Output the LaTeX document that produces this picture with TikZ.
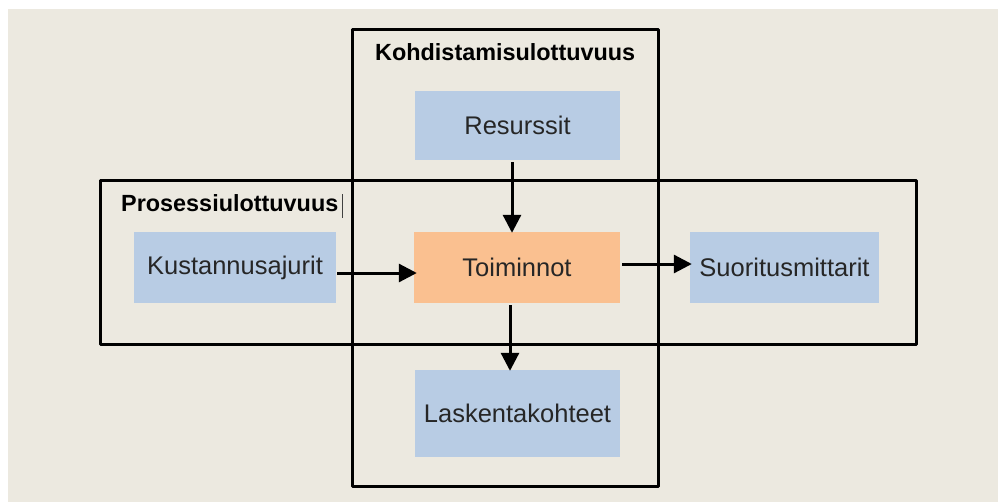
\documentclass[tikz,border=0pt]{standalone}
\usepackage{fontspec}
\setmainfont{Liberation Sans}
\usetikzlibrary{arrows.meta}
\definecolor{canvas}{RGB}{236,233,224}
\definecolor{boxblue}{RGB}{184,204,228}
\definecolor{boxorange}{RGB}{250,192,144}
\tikzset{
  frame/.style={draw=black, line width=3pt, line join=round},
  cell/.style={rectangle, inner sep=0pt, font=\fontsize{25.5}{28}\selectfont, text=black!85},
  bluecell/.style={cell, fill=boxblue},
  orangecell/.style={cell, fill=boxorange},
  title/.style={inner sep=0pt, anchor=base west, font=\fontsize{23.4}{26}\selectfont\bfseries},
  arr/.style={line width=3pt, -{Triangle[length=18pt,width=18pt]}}
}
\begin{document}
\begin{tikzpicture}[x=1pt,y=-1pt]
  \useasboundingbox (0,0) rectangle (998,503);
  \fill[white] (0,0) rectangle (998,503);
  \fill[canvas] (8,9) rectangle (998,502);

  % the two dimension frames
  \draw[frame] (352,30) rectangle (658,486);
  \draw[frame] (100,180) rectangle (916,344);
  \node[title] (ktitle) at (375,61) {Kohdistamisulottuvuus};
  \node[title] (ptitle) at (121,211) {Prosessiulottuvuus};
  \draw[line width=1pt, black!75] (342,194) -- (342,218);

  % cells
  \node[bluecell, minimum width=205pt, minimum height=69pt] (res) at (517.5,125.5) {Resurssit};
  \node[bluecell, minimum width=202pt, minimum height=71pt] (kus) at (235,267.5) {Kustannusajurit};
  \node[orangecell, minimum width=206pt, minimum height=71pt] (toi) at (517,267.5) {Toiminnot};
  \node[bluecell, minimum width=189pt, minimum height=71pt] (suo) at (784.5,267.5) {Suoritusmittarit};
  \node[bluecell, minimum width=205pt, minimum height=87pt] (las) at (517.5,413.5) {Laskentakohteet};

  % flows
  \draw[arr] ([shift={(1,5.5)}]kus.east) -- ([shift={(3,5.5)}]toi.west);
  \draw[arr] ([shift={(2,-3.5)}]toi.east) -- ([shift={(2,-3.5)}]suo.west);
  \draw[arr] ([shift={(-5.5,2)}]res.south) -- ([shift={(-5,1)}]toi.north);
  \draw[arr] ([shift={(-7,2)}]toi.south) -- ([shift={(-7.5,1)}]las.north);
\end{tikzpicture}
\end{document}
